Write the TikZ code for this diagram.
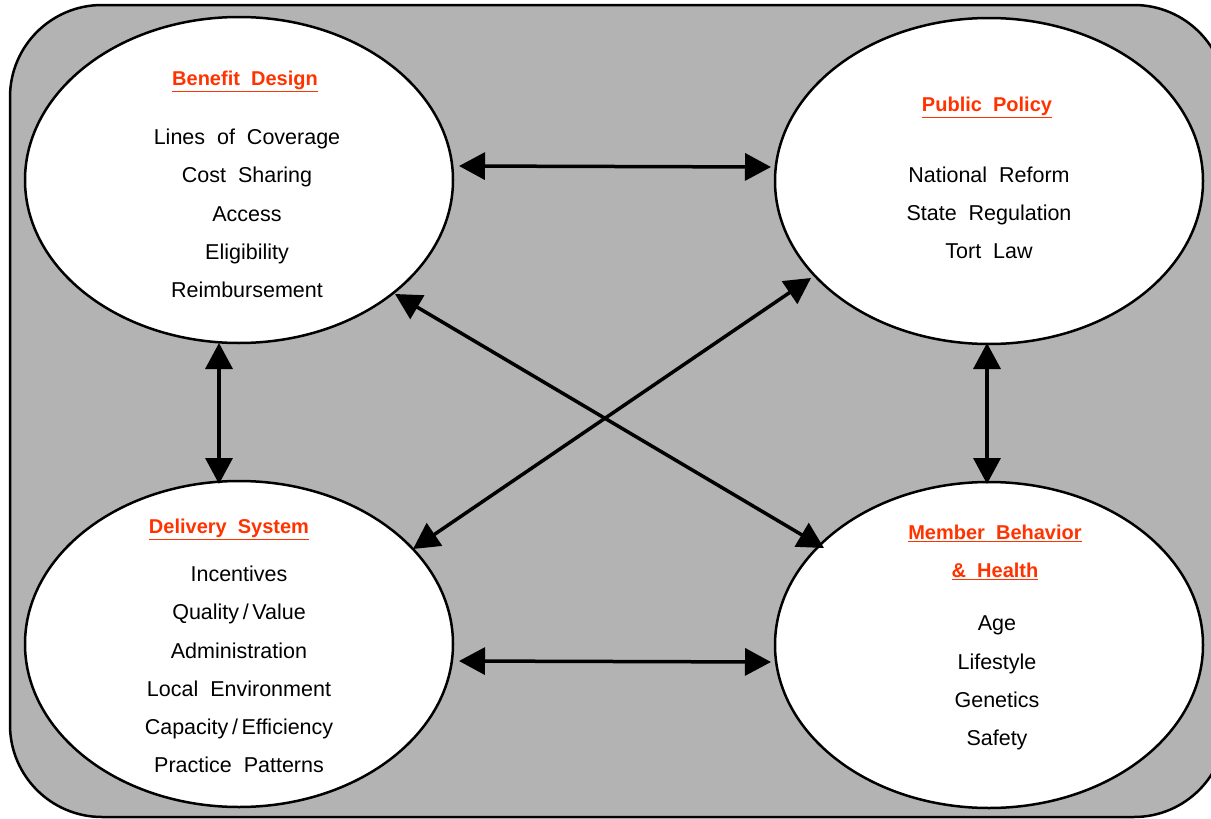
\documentclass[tikz,border=0pt]{standalone}
\usepackage{fontspec}
\setmainfont{Liberation Sans}
\usetikzlibrary{arrows.meta,shapes.geometric}
\definecolor{bggray}{RGB}{179,179,179}
\definecolor{titlered}{RGB}{255,51,0}
\begin{document}
\begin{tikzpicture}[x=1pt,y=-1pt,
  blob/.style={draw=black,line width=2.5pt,fill=white,ellipse,minimum width=428pt,minimum height=326pt,inner sep=0pt},
  ttl/.style={font={\fontsize{20}{38}\selectfont\bfseries},text=titlered,align=center,inner sep=0pt},
  body/.style={font={\fontsize{21.5}{38.3}\selectfont},text=black,align=center,inner sep=0pt},
  link/.style={line width=3.5pt,{Triangle[length=26pt,width=27pt]}-{Triangle[length=26pt,width=27pt]}}
]
\useasboundingbox (0,0) rectangle (1211,819);
\draw[line width=2.5pt,fill=bggray,rounded corners=92pt] (10,5) rectangle (1226,817);

\node[blob] (bd) at (239,180) {};
\node[blob] (pp) at (989,181) {};
\node[blob] (ds) at (239,644) {};
\node[blob] (mb) at (989,645) {};

\node[ttl] (bdt) at (245,81) {\underline{Benefit~~Design}};
\node[body] (bdb) at (247,213.5) {Lines~~of~~Coverage\\Cost~~Sharing\\Access\\Eligibility\\Reimbursement};

\node[ttl] (ppt) at (987,107) {\underline{Public~~Policy}};
\node[body] (ppb) at (989,213) {National~~Reform\\State~~Regulation\\Tort~~Law};

\node[ttl] (dst) at (229,529) {\underline{Delivery~~System}};
\node[body] (dsb) at (239,669.5) {Incentives\\Quality\,/\,Value\\Administration\\Local~~Environment\\Capacity\,/\,Efficiency\\Practice~~Patterns};

\node[ttl] (mbt) at (995,552.5) {\underline{Member~~Behavior}\\\underline{\&~~Health}};
\node[body] (mbb) at (997,683) {Age\\Lifestyle\\Genetics\\Safety};

\coordinate (a1) at (459,166);
\coordinate (a2) at (771,167);
\coordinate (b1) at (459,661);
\coordinate (b2) at (771,662);
\coordinate (c1) at (219,343);
\coordinate (c2) at (219,484);
\coordinate (d1) at (987,343);
\coordinate (d2) at (987,484);
\coordinate (e1) at (395,294);
\coordinate (e2) at (824,548);
\coordinate (f1) at (811,278);
\coordinate (f2) at (413,549);

\draw[link] (a1) -- (a2);
\draw[link] (b1) -- (b2);
\draw[link] (c1) -- (c2);
\draw[link] (d1) -- (d2);
\draw[link] (e1) -- (e2);
\draw[link] (f1) -- (f2);
\end{tikzpicture}
\end{document}
